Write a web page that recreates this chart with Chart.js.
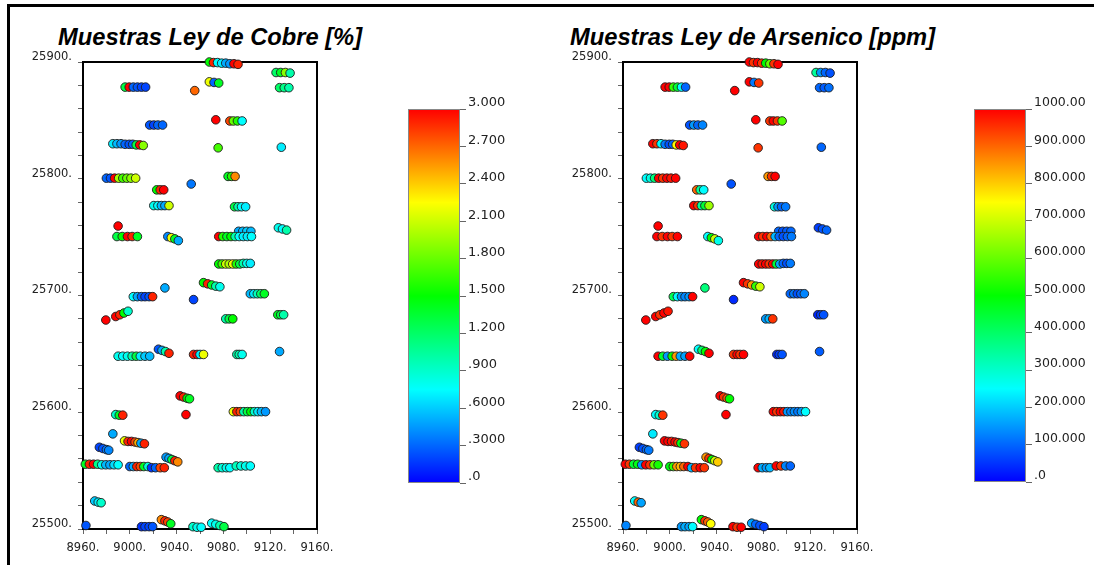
<!DOCTYPE html>
<html><head><meta charset="utf-8">
<script src="https://cdn.jsdelivr.net/npm/chart.js@4.4.1/dist/chart.umd.min.js"></script>
<style>
html,body{margin:0;padding:0;background:#fff;}
body{width:1094px;height:565px;position:relative;overflow:hidden;}
canvas{position:absolute;}
.title{position:absolute;font:italic bold 23.7px "Liberation Sans",Arial,sans-serif;line-height:24px;color:#000;white-space:nowrap;}
.frame{position:absolute;left:7px;top:4px;width:1200px;height:700px;border-top:3px solid #000;border-left:3px solid #000;}
</style></head><body>
<div class="frame"></div>
<div class="title" style="left:58px;top:25px">Muestras Ley de Cobre [%]</div>
<div class="title" style="left:570px;top:25px">Muestras Ley de Arsenico [ppm]</div>
<canvas id="cu" width="400" height="565" style="left:0;top:0"></canvas>
<canvas id="as" width="400" height="565" style="left:540px;top:0"></canvas>
<canvas id="cuBar" width="160" height="420" style="left:380px;top:80px"></canvas>
<canvas id="asBar" width="144" height="420" style="left:950px;top:80px"></canvas>
<script>
// ---- sample locations (one inner list per drill-hole segment) ----
const sampleX = [
 [9068,9071.5,9075,9078.5,9082,9085.5,9089,9092.5],
 [9125,9129,9133,9137],
 [9128,9132,9136],
 [8996,8999.5,9003,9006.5,9010,9013.5],
 [9055.5],
 [9068,9072,9076],
 [9073.5],
 [9085.5,9088.5,9092,9096],
 [9017,9020.5,9024,9028],
 [8985.5,8989,8992.5,8996,8999.5,9002.5,9005.5,9008.5,9011.5],
 [9075.5],
 [9129.5],
 [8980,8983.5,8987,8990.5,8994,8997.5,9001,9005],
 [9052.5],
 [9084,9087,9090],
 [9023,9026,9029],
 [9020.5,9024,9027,9030,9033.5],
 [9089.5,9092.5,9095.5,9099],
 [8990],
 [8989,8993.5,8998,9002,9006.5],
 [9032.5,9035.5,9038.5,9041.5],
 [9093,9096.5,9100,9103.5],
 [9076,9079.5,9083,9086.5,9090,9093.5,9097,9100.5,9104],
 [9127,9130.5,9134],
 [9076,9079,9082,9085,9088,9091,9094,9097,9100,9103],
 [9063,9066.5,9070,9073.5,9077],
 [9030],
 [9054.5],
 [9003,9006.5,9010,9013,9016.5,9019.5],
 [9103,9106,9109,9112,9115],
 [8979.5],
 [8988,8991.5,8995,8998.5],
 [9082,9085,9088],
 [9126.5,9129,9131.5],
 [9024.5,9027.5,9030.5,9033.5],
 [8990,8994,8998,9002,9005.5,9009,9013,9017],
 [9054.5,9057.5,9060,9063],
 [9091.5,9093.5,9096],
 [9128],
 [9043,9046,9049,9051],
 [9048],
 [9088.5,9091.5,9094.5,9097.5,9100.5,9103.5,9106.5,9109.5,9112.5,9116],
 [8988,8991,8994],
 [8985.5],
 [8974,8977,8980,8982],
 [8995.5,8998.5,9001.5,9004.5,9007,9009.5,9012.5],
 [9031,9033.5,9036,9038.5,9041],
 [8962,8965.5,8969,8972.5,8976,8979.5,8983,8986.5,8990],
 [9000,9003,9006,9009,9012,9015.5],
 [9018.5,9022,9026,9029.5],
 [9075.5,9079,9082.5,9085.5],
 [9091,9095,9099,9103],
 [8970,8973,8975.5],
 [8962.5],
 [9010,9013,9016.5,9019.5],
 [9027,9030,9032.5,9035],
 [9054,9057.5,9061],
 [9070,9073.5,9077,9080.5]
];
const sampleY = [
 [25900,25899.5,25899.5,25899,25899,25898.5,25898.5,25898],
 [25891,25891,25891,25890.5],
 [25878,25878,25878],
 [25878.5,25878.5,25878.5,25878.5,25878.5,25878.5],
 [25875.5],
 [25883,25882.5,25882],
 [25850.5],
 [25849.5,25849.5,25849.5,25849.5],
 [25846,25846,25846,25846],
 [25830,25830,25830,25829.5,25829.5,25829.5,25829,25829,25828.5],
 [25826.5],
 [25827],
 [25800.5,25800.5,25800.5,25800.5,25800.5,25800.5,25800.5,25800.5],
 [25795.5],
 [25802,25802,25802],
 [25790.5,25790.5,25790.5],
 [25777,25777,25777,25777,25777],
 [25776,25776,25776,25776],
 [25759.5],
 [25750.5,25750.5,25750.5,25750.5,25750.5],
 [25750.5,25749.5,25748.5,25747],
 [25755,25755,25755,25755],
 [25750.5,25750.5,25750.5,25750.5,25750.5,25750.5,25750.5,25750.5,25750.5],
 [25758,25757,25756],
 [25727,25727,25727,25727,25727,25727,25727,25727.5,25727.5,25727.5],
 [25711,25710,25709,25708,25707.5],
 [25706.5],
 [25696.5],
 [25699,25699,25699,25699,25699,25699],
 [25701.5,25701.5,25701.5,25701.5,25701.5],
 [25679],
 [25682,25683.5,25685,25686.5],
 [25680,25680,25680],
 [25683.5,25683.5,25683.5],
 [25654,25653,25652,25650.5],
 [25648,25648,25648,25648,25648,25648,25648,25648],
 [25649.5,25649.5,25649.5,25649.5],
 [25649.5,25649.5,25649.5],
 [25652],
 [25614,25613,25612,25611.5],
 [25598],
 [25600.5,25600.5,25600.5,25600.5,25600.5,25600.5,25600.5,25600.5,25600.5,25600.5],
 [25598,25597.5,25597.5],
 [25581.5],
 [25570,25569,25568,25567.5],
 [25575.5,25575,25575,25574.5,25574,25573.5,25573],
 [25561.5,25560.5,25559.5,25558.5,25557.5],
 [25555.5,25555.5,25555.5,25555.5,25555,25555,25555,25555,25555],
 [25553.5,25553.5,25553.5,25553.5,25553.5,25553.5],
 [25552.5,25552.5,25552.5,25552.5],
 [25552.5,25552.5,25552.5,25552.5],
 [25554,25554,25554,25554],
 [25524,25523,25522.5],
 [25503],
 [25502,25502,25502,25502],
 [25508,25507,25506,25504.5],
 [25502,25501.5,25501.5],
 [25505,25504,25503,25502]
];
// ---- copper grade [%] ----
const cuPct = [
 [1.5,2.9,0.75,0.7,0.5,0.45,3.0,2.9],
 [1.2,1.4,1.9,1.0],
 [1.2,1.1,1.0],
 [1.3,3.0,0.3,0.25,0.2,0.2],
 [2.7],
 [2.2,0.3,1.4],
 [3.0],
 [2.8,1.8,1.6,0.75],
 [0.25,0.2,0.3,0.3],
 [0.7,0.55,0.45,0.3,0.25,0.3,1.3,3.0,1.9],
 [1.7],
 [0.7],
 [0.3,0.25,3.0,2.0,1.7,1.8,1.9,2.1],
 [0.35],
 [1.4,1.6,2.6],
 [1.5,2.9,3.0],
 [0.8,0.75,0.55,0.5,2.1],
 [1.3,1.0,0.75,0.7],
 [3.0],
 [1.3,1.5,3.0,2.9,1.4],
 [0.4,2.2,1.4,0.5],
 [0.5,0.55,0.6,0.55],
 [3.0,1.6,1.4,1.5,1.0,0.75,0.7,0.7,0.75],
 [0.8,0.75,1.0],
 [1.5,1.7,2.1,2.0,2.2,1.6,1.3,1.0,0.8,0.7],
 [1.5,2.9,1.4,1.0,0.8],
 [0.5],
 [0.2],
 [0.75,0.5,0.3,0.2,0.25,2.9],
 [0.55,0.7,0.95,1.2,1.4],
 [3.0],
 [3.0,2.9,1.5,0.9],
 [1.0,1.3,1.5],
 [1.4,1.3,1.0],
 [0.25,0.5,1.0,2.9],
 [0.8,0.75,0.8,1.0,1.3,0.7,0.6,0.55],
 [2.9,3.0,0.7,2.2],
 [1.0,1.0,0.8],
 [0.5],
 [3.0,2.9,1.5,1.4],
 [3.0],
 [2.2,2.9,2.8,1.0,1.3,1.5,0.9,0.7,0.55,0.45],
 [0.9,1.4,2.9],
 [0.5],
 [0.2,0.25,0.35,0.4],
 [2.2,2.9,3.0,2.8,2.5,0.5,2.9],
 [0.45,0.5,1.3,2.9,2.6],
 [1.4,2.9,3.0,1.1,0.8,0.55,0.5,0.65,0.75],
 [0.3,0.5,2.9,2.8,1.4,0.85],
 [0.15,0.3,2.8,2.9],
 [1.0,0.85,0.8,0.75],
 [0.95,0.85,0.8,0.75],
 [0.6,0.7,0.9],
 [0.25],
 [0.15,0.2,0.2,0.25],
 [2.6,2.9,2.8,1.4],
 [0.9,0.8,0.75],
 [0.75,0.8,1.0,1.3]
];
// ---- arsenic grade [ppm] ----
const asPpm = [
 [1000,950,1000,950,500,600,950,1000],
 [350,150,100,80],
 [100,90,110],
 [1000,1000,550,450,250,100],
 [1000],
 [1000,120,950],
 [1000],
 [950,1000,950,580],
 [80,150,100,130],
 [1000,950,250,120,80,100,750,1000,980],
 [950],
 [100],
 [250,280,380,1000,950,1000,980,1000],
 [80],
 [850,950,1000],
 [900,350,250],
 [1000,950,350,450,650],
 [280,150,100,120],
 [1000],
 [1000,950,1000,950,1000],
 [250,500,700,270],
 [100,80,90,100],
 [1000,950,1000,900,180,100,80,100,120],
 [60,80,100],
 [1000,980,1000,950,1000,450,170,100,80,120],
 [1000,950,850,550,700],
 [380],
 [40],
 [420,250,150,130,150,1000],
 [100,120,80,100,130],
 [1000],
 [1000,950,1000,980],
 [150,180,950],
 [40,60,80],
 [250,400,500,1000],
 [1000,450,150,500,850,170,160,1000],
 [950,1000,950,1000],
 [40,60,80],
 [90],
 [1000,950,900,500],
 [1000],
 [1000,950,1000,980,150,130,140,120,150,250],
 [250,300,950],
 [230],
 [60,80,100,120],
 [1000,1000,980,1000,950,480,950],
 [850,950,500,700,800],
 [1000,950,450,480,150,1000,950,600,520],
 [480,550,850,820,900,1000],
 [180,950,1000,950],
 [1000,170,150,180],
 [1000,950,130,100],
 [250,900,160],
 [130],
 [150,170,160,250],
 [500,950,900,750],
 [1000,950,1000],
 [160,100,80,60]
];
// ---- axes & colour bars ----
const xTickValues = [8960, 9000, 9040, 9080, 9120, 9160];
const xTickLabels = ['8960.', '9000.', '9040.', '9080.', '9120.', '9160.'];
const yTickValues = [25500, 25600, 25700, 25800, 25900];
const yTickLabels = ['25500.', '25600.', '25700.', '25800.', '25900.'];
const cuBarValues = [0, 0.3, 0.6, 0.9, 1.2, 1.5, 1.8, 2.1, 2.4, 2.7, 3.0];
const cuBarLabels = ['.0', '.3000', '.6000', '.900', '1.200', '1.500', '1.800', '2.100', '2.400', '2.700', '3.000'];
const asBarValues = [0, 100, 200, 300, 400, 500, 600, 700, 800, 900, 1000];
const asBarLabels = ['.0', '100.000', '200.000', '300.000', '400.000', '500.000', '600.000', '700.000', '800.000', '900.000', '1000.00'];

const X = sampleX.flat(), Y = sampleY.flat(), CU = cuPct.flat(), AS = asPpm.flat();

const cmap = [[0,[0,0,255]],[0.25,[0,255,255]],[0.5,[0,255,0]],[0.75,[255,255,0]],[1,[255,0,0]]];
function colorFor(t){
  t = Math.max(0, Math.min(1, t));
  for (let i = 1; i < cmap.length; i++) {
    if (t <= cmap[i][0]) {
      const a = cmap[i-1], b = cmap[i], f = (t - a[0]) / (b[0] - a[0]);
      const c = a[1].map((v, k) => Math.round(v + (b[1][k] - v) * f));
      return `rgb(${c[0]},${c[1]},${c[2]})`;
    }
  }
  return 'rgb(255,0,0)';
}

const axisFont = {family: '"DejaVu Sans", sans-serif', size: 11.5};
const framePlugin = {
  id: 'plotFrame',
  beforeDatasetsDraw(chart){
    const a = chart.chartArea, c = chart.ctx;
    c.save(); c.strokeStyle = '#000'; c.lineWidth = 2;
    c.strokeRect(a.left, a.top, a.right - a.left, a.bottom - a.top);
    c.restore();
  }
};

function stepTicks(min, max, step){ const t=[]; for(let v=min; v<=max+1e-9; v+=step) t.push({value:v}); return t; }

function scatterConfig(values, vmax){
  return {
    type: 'scatter',
    data: { datasets: [{
      data: X.map((x, i) => ({x, y: Y[i]})),
      pointBackgroundColor: values.map(v => colorFor(v / vmax)),
      pointBorderColor: '#1c1c1c',
      pointBorderWidth: 0.9,
      pointRadius: 4.3,
      clip: false
    }]},
    options: {
      responsive: false, animation: false, devicePixelRatio: 1,
      layout: {padding: {left: 0, top: 62, right: 83, bottom: 6}},
      plugins: {legend: {display: false}, tooltip: {enabled: false}},
      scales: {
        x: {
          type: 'linear', min: 8960, max: 9160,
          afterBuildTicks: s => { s.ticks = stepTicks(8960, 9160, 20); },
          afterFit: s => { s.height = 30; },
          grid: {drawOnChartArea: false, tickLength: 5, color: '#666'},
          border: {color: '#000', width: 2},
          ticks: {autoSkip: false, maxRotation: 0, padding: 7, font: axisFont, color: '#222',
            callback: v => { const i = xTickValues.indexOf(v); return i >= 0 ? xTickLabels[i] : ''; }}
        },
        y: {
          type: 'linear', min: 25500, max: 25900,
          afterBuildTicks: s => { s.ticks = stepTicks(25500, 25900, 20); },
          afterFit: s => { s.width = 83; },
          grid: {drawOnChartArea: false, tickLength: 5, color: '#666'},
          border: {color: '#000', width: 2},
          ticks: {autoSkip: false, padding: 6, labelOffset: -5, font: axisFont, color: '#222',
            callback: v => { const i = yTickValues.indexOf(v); return i >= 0 ? yTickLabels[i] : ''; }}
        }
      }
    },
    plugins: [framePlugin]
  };
}

const gradientPlugin = {
  id: 'gradientBar',
  beforeDatasetsDraw(chart){
    const a = chart.chartArea, c = chart.ctx;
    const g = c.createLinearGradient(0, a.bottom, 0, a.top);
    cmap.forEach(s => g.addColorStop(s[0], `rgb(${s[1].join(',')})`));
    c.save();
    c.fillStyle = g; c.fillRect(a.left, a.top, a.right - a.left, a.bottom - a.top);
    c.strokeStyle = '#888'; c.lineWidth = 1;
    c.strokeRect(a.left + 0.5, a.top + 0.5, a.right - a.left - 1, a.bottom - a.top - 1);
    c.restore();
  }
};

function barConfig(vals, labels, vmax, fontSize, axisW, pad){
  return {
    type: 'scatter',
    data: {datasets: []},
    options: {
      responsive: false, animation: false, devicePixelRatio: 1,
      layout: {padding: pad},
      plugins: {legend: {display: false}, tooltip: {enabled: false}},
      scales: {
        x: {display: false, min: 0, max: 1},
        y: {
          position: 'right', min: 0, max: vmax,
          afterBuildTicks: s => { s.ticks = vals.map(v => ({value: v})); },
          afterFit: s => { s.width = axisW; },
          grid: {drawOnChartArea: false, tickLength: 6, color: '#666'},
          border: {display: false},
          ticks: {autoSkip: false, padding: 2, labelOffset: -6,
            font: {family: '"DejaVu Sans", sans-serif', size: fontSize}, color: '#222',
            callback: (v, i) => labels[i]}
        }
      }
    },
    plugins: [gradientPlugin]
  };
}

new Chart(document.getElementById('cu'), scatterConfig(CU, 3));
new Chart(document.getElementById('as'), scatterConfig(AS, 1000));
new Chart(document.getElementById('cuBar'), barConfig(cuBarValues, cuBarLabels, 3, 13, 70, {left: 28, top: 29, right: 10, bottom: 17}));
new Chart(document.getElementById('asBar'), barConfig(asBarValues, asBarLabels, 1000, 12.5, 68, {left: 24, top: 29, right: 0, bottom: 18}));
</script>
</body></html>
